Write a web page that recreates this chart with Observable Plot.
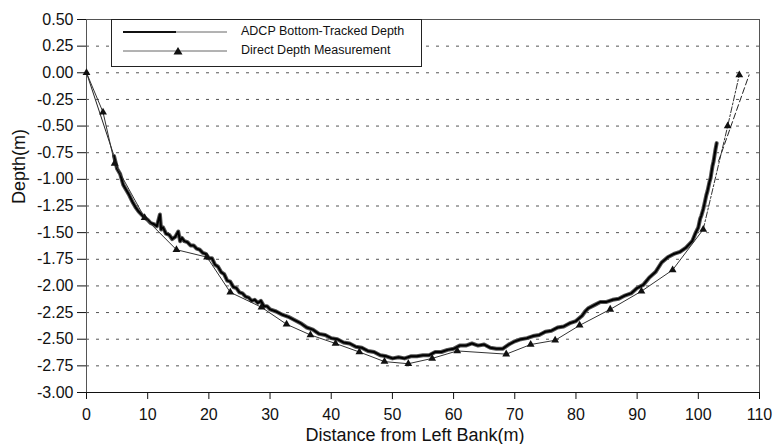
<!DOCTYPE html>
<html>
<head>
<meta charset="utf-8">
<script src="https://cdn.jsdelivr.net/npm/d3@7"></script>
<script src="https://cdn.jsdelivr.net/npm/@observablehq/plot@0.6"></script>
<style>
  html, body { margin: 0; padding: 0; background: #fff; }
  #wrap { position: relative; width: 777px; height: 444px; font-family: "Liberation Sans", Arial, sans-serif; }
  #legend { position: absolute; left: 111px; top: 19px; width: 311px; height: 48px; box-sizing: border-box;
            border: 1.3px solid #222; background: #fff; }
  #legend svg { position: absolute; left: 0; top: 0; }
</style>
</head>
<body>
<div id="wrap">
  <div id="chart"></div>
  <div id="legend">
    <svg width="310" height="46">
      <line x1="11" x2="64" y1="12" y2="12" stroke="#111" stroke-width="2"></line>
      <line x1="64" x2="115" y1="12" y2="12" stroke="#666" stroke-width="1"></line>
      <text x="129" y="12" dominant-baseline="middle" font-size="12.5" fill="#111" font-family="Liberation Sans, Arial, sans-serif">ADCP Bottom-Tracked Depth</text>
      <line x1="11" x2="115" y1="31" y2="31" stroke="#666" stroke-width="1"></line>
      <path d="M66,27 L70.5,34.5 L61.5,34.5 Z" fill="#111"></path>
      <text x="129" y="31" dominant-baseline="middle" font-size="12.5" fill="#111" font-family="Liberation Sans, Arial, sans-serif">Direct Depth Measurement</text>
    </svg>
  </div>
</div>
<script>
// ---- data ----
const xTicks = [0, 10, 20, 30, 40, 50, 60, 70, 80, 90, 100, 110];
const yTicks = [0.5, 0.25, 0, -0.25, -0.5, -0.75, -1, -1.25, -1.5, -1.75, -2, -2.25, -2.5, -2.75, -3];

// Direct depth measurement (distance m, depth m)
const directX = [0, 2.7, 4.6, 9.5, 14.7, 19.7, 23.5, 28.6, 32.7, 36.6, 40.7, 44.6, 48.7, 52.6, 56.5, 60.6, 68.6, 72.6, 76.6, 80.6, 85.6, 90.7, 95.8, 100.8, 104.8, 106.7];
const directY = [0, -0.37, -0.85, -1.36, -1.66, -1.73, -2.06, -2.20, -2.36, -2.46, -2.54, -2.62, -2.71, -2.73, -2.68, -2.61, -2.64, -2.55, -2.51, -2.37, -2.22, -2.05, -1.85, -1.47, -0.50, -0.02];

// ADCP bottom-tracked depth
const adcpX = [4.5, 5, 5.5, 6, 6.5, 7, 7.5, 8, 8.5, 9, 9.5, 10, 10.5, 11, 11.5, 12, 12.2, 12.5, 13, 13.5, 14, 14.5, 15, 15.3, 15.6, 16, 16.5, 17, 17.5, 18, 18.5, 19, 19.5, 20, 20.5, 21, 21.5, 22, 22.5, 23, 23.5, 24, 24.5, 25, 25.5, 26, 26.5, 27, 27.5, 28, 28.5, 29, 29.5, 30, 31, 32, 33, 34, 35, 36, 37, 38, 39, 40, 41, 42, 43, 44, 45, 46, 47, 48, 49, 50, 51, 52, 53, 54, 55, 56, 57, 58, 59, 60, 61, 62, 63, 64, 65, 66, 67, 68, 69, 70, 71, 72, 73, 74, 75, 76, 77, 78, 79, 80, 81, 81.5, 82, 83, 84, 85, 86, 87, 88, 89, 90, 91, 92, 93, 94, 95, 96, 97, 98, 99, 99.5, 100, 100.3, 100.5, 100.8, 101, 101.3, 101.5, 101.8, 102, 102.3, 102.5, 102.8, 103];
const adcpY = [-0.78, -0.90, -0.95, -1.05, -1.10, -1.15, -1.21, -1.26, -1.30, -1.33, -1.36, -1.38, -1.41, -1.42, -1.44, -1.33, -1.47, -1.45, -1.51, -1.52, -1.56, -1.54, -1.49, -1.58, -1.55, -1.58, -1.59, -1.62, -1.62, -1.65, -1.66, -1.69, -1.70, -1.74, -1.74, -1.80, -1.82, -1.87, -1.89, -1.95, -1.96, -2.01, -2.02, -2.06, -2.07, -2.10, -2.11, -2.14, -2.13, -2.16, -2.14, -2.19, -2.19, -2.22, -2.24, -2.27, -2.29, -2.32, -2.35, -2.39, -2.41, -2.45, -2.46, -2.49, -2.50, -2.53, -2.54, -2.57, -2.58, -2.61, -2.62, -2.65, -2.66, -2.68, -2.67, -2.68, -2.66, -2.66, -2.65, -2.65, -2.62, -2.62, -2.60, -2.59, -2.56, -2.56, -2.54, -2.56, -2.55, -2.58, -2.59, -2.59, -2.55, -2.52, -2.50, -2.49, -2.47, -2.46, -2.43, -2.42, -2.39, -2.38, -2.35, -2.33, -2.28, -2.24, -2.21, -2.18, -2.15, -2.15, -2.13, -2.12, -2.09, -2.07, -2.02, -1.99, -1.92, -1.87, -1.78, -1.73, -1.70, -1.68, -1.64, -1.58, -1.51, -1.45, -1.37, -1.34, -1.28, -1.23, -1.15, -1.11, -1.03, -0.99, -0.88, -0.83, -0.72, -0.66];

// Edge extrapolations to the banks
const leftEdgeX = [0, 4.5];
const leftEdgeY = [0, -0.78];
const rightEdgeX = [103.3, 108.3];
const rightEdgeY = [-0.83, -0.02];

// ---- build tables ----
const direct = directX.map((x, i) => ({x, y: directY[i]}));
const directMain = direct.filter(d => d.x <= 100.8);
const directEnd = direct.filter(d => d.x >= 100.8);
const adcp = adcpX.map((x, i) => ({x, y: adcpY[i]}));
const leftEdge = leftEdgeX.map((x, i) => ({x, y: leftEdgeY[i]}));
const rightEdge = rightEdgeX.map((x, i) => ({x, y: rightEdgeY[i]}));
const gridY = yTicks.filter(v => v < 0.5 && v > -3);

const chart = Plot.plot({
  width: 777,
  height: 444,
  marginLeft: 86,
  marginRight: 18,
  marginTop: 19,
  marginBottom: 52,
  style: {fontFamily: "Liberation Sans, Arial, sans-serif", fontSize: "16px", color: "#111", background: "#fff", overflow: "visible"},
  x: {domain: [0, 110], label: null},
  y: {domain: [-3, 0.5], label: null},
  marks: [
    Plot.ruleY(gridY, {stroke: "#555", strokeWidth: 1, strokeDasharray: "3,7"}),
    Plot.frame({stroke: "#555", strokeWidth: 1}),
    Plot.ruleY([-3], {stroke: "#111", strokeWidth: 1.2}),
    Plot.axisX({ticks: xTicks, tickSize: 7, tickPadding: 9, fontSize: 16, tickFormat: d => String(d), label: null}),
    Plot.axisY({ticks: yTicks, tickSize: 9, tickPadding: 4, fontSize: 16, tickFormat: d => d.toFixed(2), label: null}),
    Plot.text(["Distance from Left Bank(m)"], {frameAnchor: "bottom", dy: 48, dx: -8, fontSize: 18, fill: "#111"}),
    Plot.text(["Depth(m)"], {frameAnchor: "left", rotate: -90, dx: -67, dy: -2, fontSize: 18, fill: "#111"}),
    // ADCP
    Plot.line(leftEdge, {x: "x", y: "y", stroke: "#222", strokeWidth: 1}),
    Plot.line(rightEdge, {x: "x", y: "y", stroke: "#222", strokeWidth: 1, strokeDasharray: "6,3"}),
    Plot.line(adcp, {x: "x", y: "y", stroke: "#555", strokeWidth: 4}),
    Plot.line(adcp, {x: "x", y: "y", stroke: "#000", strokeWidth: 2}),
    // Direct
    Plot.line(directMain, {x: "x", y: "y", stroke: "#333", strokeWidth: 1}),
    Plot.line(directEnd, {x: "x", y: "y", stroke: "#333", strokeWidth: 1, strokeDasharray: "6,2,2,2"}),
    Plot.dot(direct, {x: "x", y: "y", symbol: "triangle", r: 2.9, fill: "#111", stroke: "none"})
  ]
});
document.getElementById("chart").appendChild(chart);
</script>
</body>
</html>
